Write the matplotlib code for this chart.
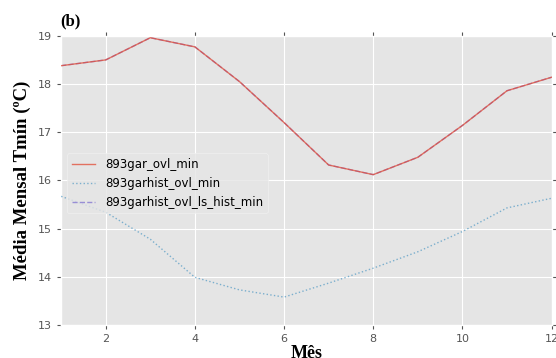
import numpy as np
from matplotlib import pyplot as plt

plt.style.use('ggplot')

meses = [1, 2, 3, 4, 5, 6, 7, 8, 9, 10, 11, 12]
gar_ovl_min = [18.38, 18.50, 18.96, 18.77, 18.05, 17.20, 16.32, 16.12, 16.48, 17.14, 17.86, 18.14]
garhist_ovl_min = [15.67, 15.34, 14.78, 13.99, 13.73, 13.58, 13.87, 14.18, 14.52, 14.94, 15.43, 15.63]
garhist_ls_hist_min = [18.38, 18.50, 18.96, 18.77, 18.05, 17.20, 16.32, 16.12, 16.48, 17.14, 17.86, 18.14]

fig = plt.figure(figsize=(5.56, 3.58), dpi=100)
ax = fig.add_axes([0.110, 0.092, 0.882, 0.808])

ax.plot(meses, garhist_ls_hist_min, color='#988ED5', ls='--', lw=1, zorder=2,
        label='893garhist_ovl_ls_hist_min')
ax.plot(meses, gar_ovl_min, color='#E24A33', lw=1, alpha=0.75, zorder=3,
        label='893gar_ovl_min')
ax.plot(meses, garhist_ovl_min, color='#348ABD', ls=':', lw=1, alpha=0.6, zorder=3,
        label='893garhist_ovl_min')

ax.set_xlim(1, 12)
ax.set_ylim(13, 19)
ax.set_xticks([2, 4, 6, 8, 10, 12])
ax.set_yticks([13, 14, 15, 16, 17, 18, 19])
ax.tick_params(direction='out', top=True, right=True, labelsize=8,
               colors='#555555', length=3)
ax.grid(True, color='white', lw=0.8)

h, l = ax.get_legend_handles_labels()
order = [1, 2, 0]
leg = ax.legend([h[i] for i in order], [l[i] for i in order], loc='center left',
                fontsize=8.5, frameon=True, bbox_to_anchor=(0.0, 0.49))
leg.get_frame().set_facecolor('#E5E5E5')
leg.get_frame().set_edgecolor('#F2F2F2')

ax.set_xlabel('Mês', family='Liberation Serif', fontweight='bold', fontsize=13,
              color='black', labelpad=1)
ax.set_ylabel('Média Mensal Tmín (ºC)', family='Liberation Serif', fontweight='bold',
              fontsize=13.5, color='black', labelpad=5)
fig.text(0.108, 0.93, '(b)', family='Liberation Serif', fontweight='bold', fontsize=12)

fig.savefig('out.png', dpi=100)
